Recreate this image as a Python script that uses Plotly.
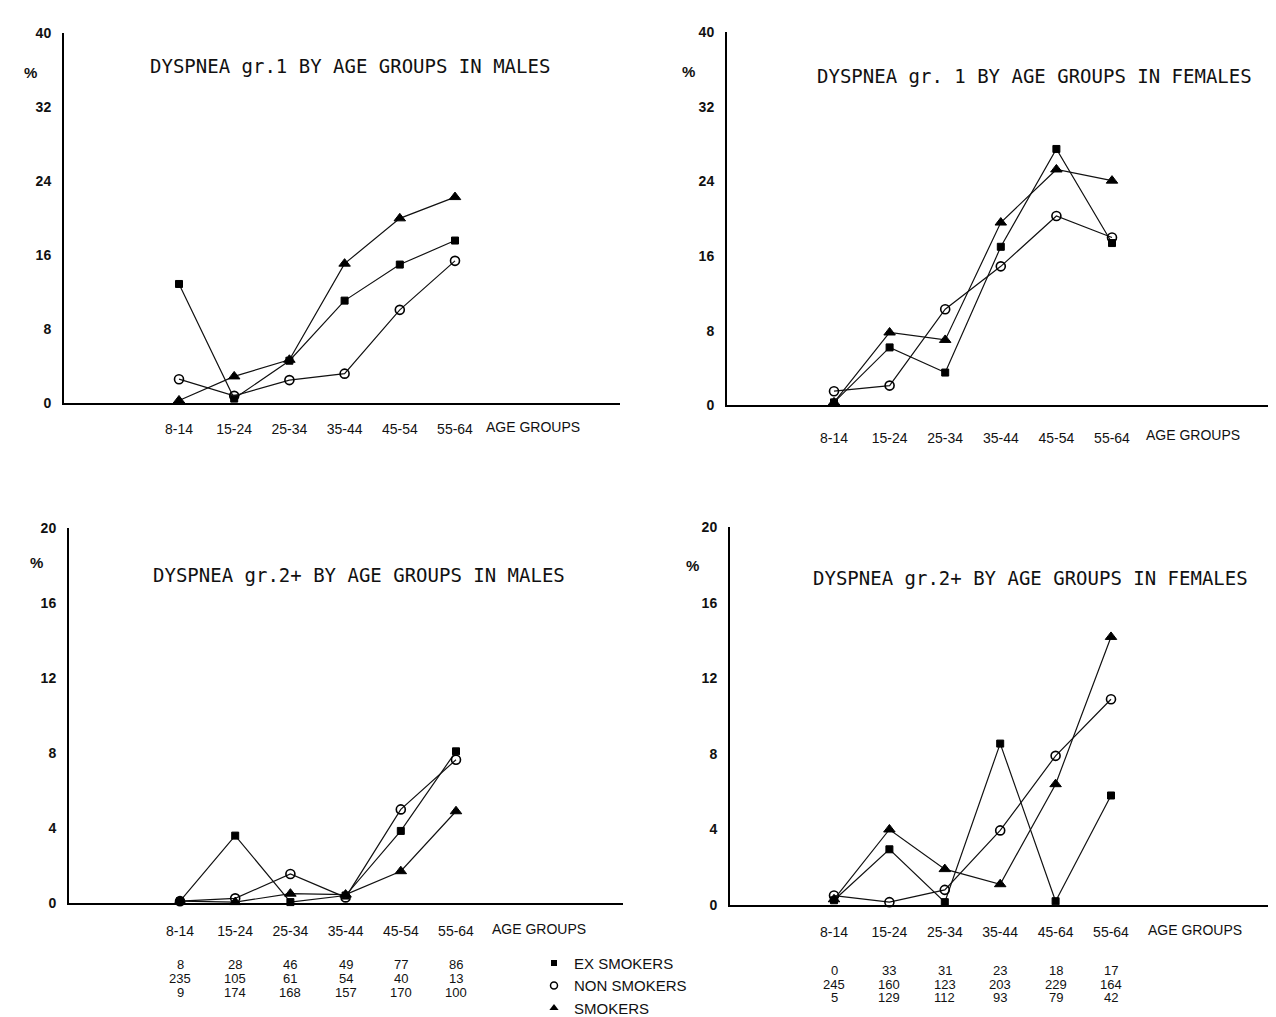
import plotly.graph_objects as go

W, H = 1276, 1017

# ---------------- data ----------------
age_groups = ["8-14", "15-24", "25-34", "35-44", "45-54", "55-64"]
age_groups_f2 = ["8-14", "15-24", "25-34", "35-44", "45-64", "55-64"]  # as printed
series_names = ["EX SMOKERS", "NON SMOKERS", "SMOKERS"]

# Dyspnea gr.1, males (%)
m1_ex = [12.9, 0.5, 4.6, 11.1, 15.0, 17.6]
m1_non = [2.6, 0.8, 2.5, 3.2, 10.1, 15.4]
m1_smk = [0.3, 2.9, 4.7, 15.1, 20.0, 22.3]
# Dyspnea gr.1, females (%)
f1_ex = [0.3, 6.2, 3.5, 17.0, 27.5, 17.4]
f1_non = [1.5, 2.1, 10.3, 14.9, 20.3, 18.0]
f1_smk = [0.3, 7.8, 7.0, 19.6, 25.3, 24.1]
# Dyspnea gr.2+, males (%)
m2_ex = [0.1, 3.6, 0.05, 0.4, 3.85, 8.1]
m2_non = [0.1, 0.25, 1.55, 0.3, 5.0, 7.65]
m2_smk = [0.1, 0.05, 0.5, 0.45, 1.7, 4.9]
# Dyspnea gr.2+, females (%)
f2_ex = [0.25, 2.95, 0.15, 8.55, 0.2, 5.8]
f2_non = [0.5, 0.15, 0.8, 3.95, 7.9, 10.9]
f2_smk = [0.3, 4.0, 1.9, 1.1, 6.4, 14.2]

# sample sizes
male_n_ex = [8, 28, 46, 49, 77, 86]
male_n_non = [235, 105, 61, 54, 40, 13]
male_n_smk = [9, 174, 168, 157, 170, 100]
female_n_ex = [0, 33, 31, 23, 18, 17]
female_n_non = [245, 160, 123, 203, 229, 164]
female_n_smk = [5, 129, 112, 93, 79, 42]

top_ticks = [0, 8, 16, 24, 32, 40]
bottom_ticks = [0, 4, 8, 12, 16, 20]

titles = ["DYSPNEA gr.1 BY AGE GROUPS IN MALES",
          "DYSPNEA gr. 1 BY AGE GROUPS IN FEMALES",
          "DYSPNEA gr.2+ BY AGE GROUPS IN MALES",
          "DYSPNEA gr.2+ BY AGE GROUPS IN FEMALES"]

# ---------------- layout helpers ----------------
def px(x):
    return x / W

def py(y):
    return 1 - y / H

SANS = "Liberation Sans, Arial, sans-serif"
MONO = "DejaVu Sans Mono, Liberation Mono, monospace"
INK = "#111111"

panels = [
    dict(ax="", series=(m1_ex, m1_non, m1_smk), labels=age_groups, ticks=top_ticks,
         left=56, right=612, bottom=399, top=18, x0=171, dx=55.2, ymax=40,
         title_xy=(342, 52), pct_xy=(22, 58), std=12, ag_x=476, ag_dy=25),
    dict(ax="2", series=(f1_ex, f1_non, f1_smk), labels=age_groups, ticks=top_ticks,
         left=719, right=1276, bottom=401, top=17, x0=826, dx=55.6, ymax=40,
         title_xy=(1026, 62), pct_xy=(680, 57), std=19, ag_x=1136, ag_dy=31),
    dict(ax="3", series=(m2_ex, m2_non, m2_smk), labels=age_groups, ticks=bottom_ticks,
         left=61, right=615, bottom=914, top=528, x0=172, dx=55.2, ymax=20,
         title_xy=(351, 576), pct_xy=(28, 563), std=14, ag_x=482, ag_dy=27),
    dict(ax="4", series=(f2_ex, f2_non, f2_smk), labels=age_groups_f2, ticks=bottom_ticks,
         left=722, right=1265, bottom=916, top=527, x0=826, dx=55.4, ymax=20,
         title_xy=(1022, 579), pct_xy=(684, 566), std=13, ag_x=1138, ag_dy=26),
]

markers = [
    dict(symbol="square", size=7, color="black", line=dict(color="black", width=1)),
    dict(symbol="circle-open", size=9, color="black", line=dict(color="black", width=1.6)),
    dict(symbol="triangle-up", size=10, color="black", line=dict(color="black", width=1)),
]

fig = go.Figure()
annotations = []
layout = {}

xs = list(range(len(age_groups)))
for k, p in enumerate(panels):
    xa = "x" + p["ax"]
    ya = "y" + p["ax"]
    for vals, mk, name in zip(p["series"], markers, series_names):
        fig.add_trace(go.Scatter(
            x=xs, y=vals, mode="lines+markers", name=name, showlegend=False,
            line=dict(color=INK, width=1.2), marker=mk,
            xaxis=xa, yaxis=ya, cliponaxis=False))
    xmin = -(p["x0"] - p["left"]) / p["dx"]
    xmax = xmin + (p["right"] - p["left"]) / p["dx"]
    layout["xaxis" + p["ax"]] = dict(
        domain=[px(p["left"]), px(p["right"])], range=[xmin, xmax],
        anchor=ya, showline=True, linecolor="black", linewidth=2,
        showgrid=False, zeroline=False, ticks="",
        tickvals=xs, ticktext=p["labels"], ticklabelstandoff=p["std"],
        tickfont=dict(family=SANS, size=14, color=INK))
    layout["yaxis" + p["ax"]] = dict(
        domain=[py(p["bottom"]), py(p["top"])], range=[0, p["ymax"]],
        anchor=xa, showline=True, linecolor="black", linewidth=2,
        showgrid=False, zeroline=False, ticks="",
        tickvals=p["ticks"], ticktext=["<b>%d</b>" % t for t in p["ticks"]],
        ticklabelstandoff=8,
        tickfont=dict(family=SANS, size=14, color=INK))
    annotations.append(dict(
        x=px(p["title_xy"][0]), y=py(p["title_xy"][1]), xref="paper", yref="paper",
        text=titles[k], showarrow=False, xanchor="center", yanchor="middle",
        font=dict(family=MONO, size=19, color=INK)))
    annotations.append(dict(
        x=px(p["pct_xy"][0]), y=py(p["pct_xy"][1]), xref="paper", yref="paper",
        text="<b>%</b>", showarrow=False, xanchor="center", yanchor="middle",
        font=dict(family=SANS, size=15, color=INK)))
    annotations.append(dict(
        x=px(p["ag_x"]), y=py(p["bottom"] + p["ag_dy"]),
        xref="paper", yref="paper", text="AGE GROUPS", showarrow=False,
        xanchor="left", yanchor="middle",
        font=dict(family=SANS, size=14, color=INK)))

# sample size tables
tables = [
    ("x3", (male_n_ex, male_n_non, male_n_smk), (977, 992, 1006)),
    ("x4", (female_n_ex, female_n_non, female_n_smk), (984, 998, 1011)),
]
for xref, rows, ys in tables:
    for row, yy in zip(rows, ys):
        for i, v in enumerate(row):
            annotations.append(dict(
                x=i, y=py(yy), xref=xref, yref="paper", text=str(v), showarrow=False,
                xanchor="center", yanchor="middle",
                font=dict(family=SANS, size=13, color=INK)))

# legend-only traces
legend_markers = [
    dict(symbol="square", size=6, color="black"),
    dict(symbol="circle-open", size=7, color="black", line=dict(color="black", width=1.5)),
    dict(symbol="triangle-up", size=8, color="black"),
]
for name, mk in zip(series_names, legend_markers):
    fig.add_trace(go.Scatter(x=[None], y=[None], mode="markers", name=name,
                             marker=mk, xaxis="x3", yaxis="y3", showlegend=True))

fig.update_layout(
    width=W, height=H, margin=dict(l=0, r=0, t=0, b=0),
    paper_bgcolor="white", plot_bgcolor="white",
    annotations=annotations,
    legend=dict(x=px(526), y=py(959), xanchor="left", yanchor="top",
                font=dict(family=SANS, size=15, color=INK),
                bgcolor="rgba(0,0,0,0)", tracegroupgap=0, itemwidth=30),
    **layout)

fig.write_html("out.html")
